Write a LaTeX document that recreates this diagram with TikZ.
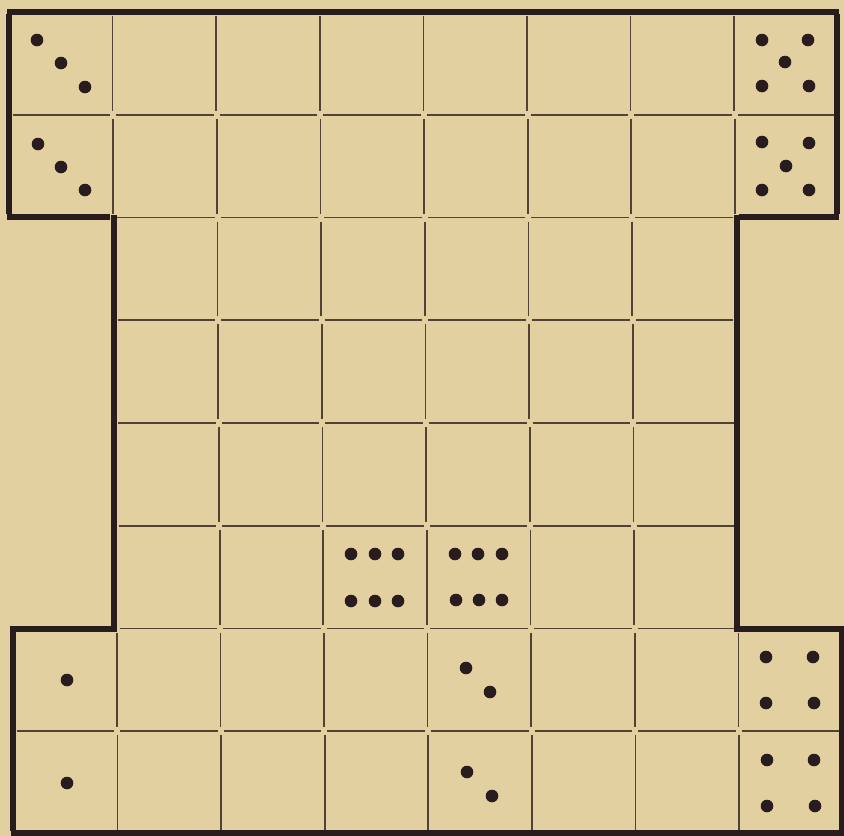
\documentclass[tikz,border=0pt]{standalone}
\definecolor{paper}{RGB}{227,208,161}
\definecolor{ink}{RGB}{40,28,30}
\definecolor{thinink}{RGB}{80,66,52}
\begin{document}
\begin{tikzpicture}[x=0.75pt,y=-0.75pt,
  thinline/.style={draw=thinink,line width=1.3pt},
  thickline/.style={draw=ink,line width=3.8pt,line cap=butt},
  pip/.style={fill=ink}]
\fill[paper] (0,0) rectangle (844,836);
\useasboundingbox (0,0) rectangle (844,836);
% thin vertical separators
\foreach \r in {0,...,7}{
  \pgfmathsetmacro{\ya}{12+\r*102.75+4}
  \pgfmathsetmacro{\yb}{12+(\r+1)*102.75-4}
  \pgfmathsetmacro{\sh}{\r*0.7}
  \ifnum\r<2 \def\cl{1,...,7}\else\ifnum\r>5 \def\cl{1,...,7}\else\def\cl{2,...,6}\fi\fi
  \foreach \c in \cl{
    \pgfmathsetmacro{\xx}{9+\c*103.6+\sh}
    \draw[thinline] (\xx,\ya) -- (\xx,\yb);
  }
}
% thin horizontal separators
\foreach \k in {1,...,7}{
  \pgfmathsetmacro{\yy}{12+\k*102.75}
  \pgfmathsetmacro{\sh}{\k*0.65}
  \ifnum\k=1 \def\cl{0,...,7}\else\ifnum\k=7 \def\cl{0,...,7}\else\def\cl{1,...,6}\fi\fi
  \foreach \c in \cl{
    \pgfmathsetmacro{\xa}{9+\c*103.6+\sh+3}
    \pgfmathsetmacro{\xb}{9+(\c+1)*103.6+\sh-3}
    \draw[thinline] (\xa,\yy) -- (\xb,\yy);
  }
}
% thick outline: top band
\draw[thickline] (7,12) -- (839,12);
\draw[thickline] (9,14) -- (9,214);
\draw[thickline] (837,14) -- (837,214);
\draw[thickline] (7,217) -- (110,217);
\draw[thickline] (739,217) -- (839,217);
% thick outline: middle
\draw[thickline] (114,215) -- (114,632);
\draw[thickline] (737,215) -- (737,632);
% thick outline: bottom band
\draw[thickline] (10,629) -- (112,629);
\draw[thickline] (739,629) -- (844,629);
\draw[thickline] (13,631) -- (13,831);
\draw[thickline] (842,631) -- (842,831);
\draw[thickline] (11,833) -- (844,833);
% pips
\foreach \p in {(37,40),(61,63),(85,87),(38,144),(61,167),(85,190),
  (762,40),(808,40),(785,62),(762,86),(809,86),
  (762,142),(809,143),(786,166),(762,190),(809,190),
  (67,680),(67,783),
  (766,657),(813,657),(766,703),(814,703),
  (767,760),(814,760),(767,806),(815,806),
  (351,554),(375,554),(398,554),(351,601),(375,601),(398,601),
  (455,554),(478,554),(502,554),(456,600),(479,600),(502,600),
  (466,668),(490,692),(467,772),(492,796)}
  \fill[pip] \p circle (6.3);
\end{tikzpicture}
\end{document}
